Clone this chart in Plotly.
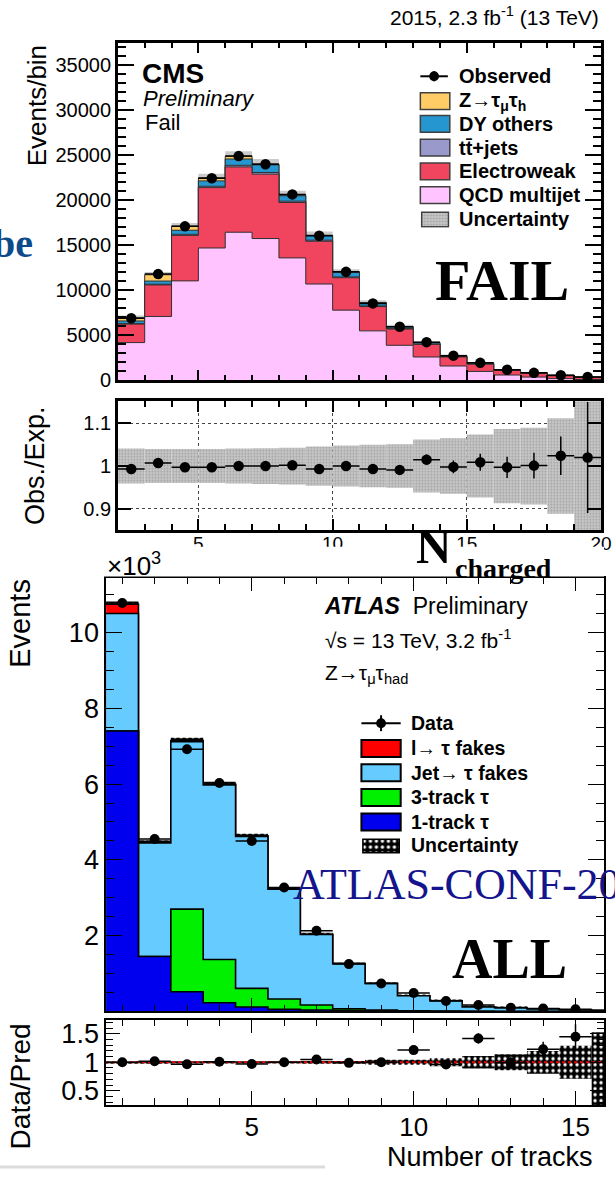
import plotly.graph_objects as go

W, H = 615, 1180


def fx(x):
    return x / W


def fy(y):
    return 1 - y / H


# ---------------- CMS panel data (N_charged, Fail category) ----------------
cms_edges = list(range(2, 21))
cms_centers = [e + 0.5 for e in range(2, 20)]
cms_qcd = [4200, 7100, 11050, 14700, 16450, 15750, 13600, 10700, 7800, 5500, 3900, 2600, 1600, 1000, 600, 370, 200, 100]
cms_ew = [2050, 3500, 5050, 6700, 7250, 7150, 6150, 4750, 3600, 2700, 1800, 1400, 1000, 800, 500, 410, 320, 230]
cms_tt = [50, 80, 120, 150, 180, 180, 150, 120, 90, 70, 50, 40, 30, 20, 20, 10, 10, 10]
cms_dy = [300, 350, 450, 600, 700, 850, 600, 500, 500, 350, 200, 150, 100, 80, 50, 40, 30, 20]
cms_ztt = [350, 700, 450, 350, 300, 100, 100, 50, 50, 30, 30, 20, 20, 20, 10, 10, 10, 10]
cms_obs = [6900, 11800, 17100, 22450, 24900, 24000, 20650, 16050, 12050, 8550, 5950, 4250, 2750, 1950, 1180, 840, 580, 380]
cms_obs_err = [80, 110, 130, 150, 160, 155, 145, 125, 110, 90, 75, 65, 50, 45, 35, 28, 24, 20]
cms_unc = [250, 300, 350, 450, 550, 550, 450, 400, 300, 250, 200, 150, 120, 100, 80, 60, 50, 50]
cms_ratio = [0.993, 1.007, 0.997, 0.997, 1.0, 1.0, 1.002, 0.993, 1.0, 0.993, 0.991, 1.015, 0.998, 1.009, 0.997, 1.001, 1.024, 1.02]
cms_ratio_err = [0.003, 0.003, 0.003, 0.003, 0.003, 0.003, 0.004, 0.004, 0.004, 0.005, 0.006, 0.012, 0.015, 0.02, 0.025, 0.03, 0.045, 0.13]
cms_band = [0.041, 0.040, 0.040, 0.040, 0.041, 0.042, 0.043, 0.046, 0.048, 0.050, 0.051, 0.062, 0.065, 0.074, 0.087, 0.090, 0.112, 0.16]
cms_xticks = [5, 10, 15, 20]
cms_yticks_ratio = [0.9, 1.0, 1.1]
cms_yticktext_ratio = ["0.9", "1", "1.1"]

# ---------------- ATLAS panel data (number of tracks) ----------------
atl_edges = [k + 0.5 for k in range(0, 17)]
atl_centers = list(range(1, 17))
atl_1trk = [7400, 1450, 520, 230, 120, 55, 40, 20, 10, 5, 3, 2, 1, 1, 1, 0]
atl_3trk = [0, 0, 2180, 1140, 490, 275, 130, 50, 25, 12, 6, 4, 2, 1, 1, 0]
atl_jet = [3100, 3000, 4420, 4610, 4010, 2900, 1860, 1190, 705, 398, 274, 112, 97, 62, 38, 25]
atl_lep = [250, 20, 30, 20, 15, 10, 8, 5, 3, 2, 1, 1, 1, 0, 0, 0]
atl_unc = [70, 50, 70, 60, 55, 45, 40, 30, 25, 20, 15, 12, 10, 8, 8, 10]
atl_data_x = list(range(1, 16))
atl_data = [10780, 4550, 6920, 6030, 4500, 3270, 2130, 1250, 740, 490, 275, 170, 100, 80, 57]
atl_data_err = [104, 67, 83, 78, 67, 57, 46, 35, 27, 22, 17, 13, 10, 9, 8]
atl_ratio = [1.0, 1.02, 0.965, 1.01, 0.97, 1.0, 1.05, 0.99, 1.0, 1.215, 0.96, 1.42, 0.99, 1.23, 1.45]
atl_ratio_err = [0.01, 0.015, 0.013, 0.014, 0.016, 0.018, 0.023, 0.03, 0.04, 0.05, 0.07, 0.09, 0.1, 0.13, 0.22]
atl_band_lo = [0.985, 0.985, 0.98, 0.98, 0.98, 0.98, 0.975, 0.975, 0.955, 0.955, 0.93, 0.89, 0.86, 0.8, 0.71, 0.2]
atl_band_hi = [1.015, 1.015, 1.02, 1.02, 1.02, 1.02, 1.025, 1.025, 1.045, 1.045, 1.07, 1.11, 1.14, 1.2, 1.29, 1.53]
atl_yticks = [2000, 4000, 6000, 8000, 10000]
atl_yticktext = ["2", "4", "6", "8", "10"]
atl_rticks = [0.5, 1.0, 1.5]
atl_rticktext = ["0.5", "1", "1.5"]

# colours
C_ZTT, C_DY, C_TT, C_EW, C_QCD = "#ffcc66", "#2596d0", "#9999cc", "#f0445f", "#ffc4ff"
C_LEP, C_JET, C_3T, C_1T = "#ff0000", "#66ccff", "#00f000", "#0000ee"

SANS = "Liberation Sans"
SERIF = "Liberation Serif"


def cumulative(*comps):
    out, run = [], [0] * len(comps[0])
    for c in comps:
        run = [a + b for a, b in zip(run, c)]
        out.append(run)
    return out


def step(edges, vals, fill, lc, lw, xa, ya):
    return go.Scatter(x=edges, y=list(vals) + [vals[-1]], mode="lines",
                      line=dict(shape="hv", color=lc, width=lw), fill="tozeroy",
                      fillcolor=fill, xaxis=xa, yaxis=ya, hoverinfo="skip", showlegend=False)


fig = go.Figure()

# ---- CMS stack ----
c_qcd, c_ew, c_tt, c_dy, c_tot = cumulative(cms_qcd, cms_ew, cms_tt, cms_dy, cms_ztt)
for vals, col in [(c_tot, C_ZTT), (c_dy, C_DY), (c_tt, C_TT), (c_ew, C_EW), (c_qcd, C_QCD)]:
    fig.add_trace(step(cms_edges, vals, col, "#303030", 1, "x", "y"))
fig.add_trace(go.Bar(x=cms_centers, y=[2 * u for u in cms_unc], base=[t - u for t, u in zip(c_tot, cms_unc)],
                     width=1, marker=dict(color="rgba(160,160,160,0.55)", line=dict(width=0)),
                     xaxis="x", yaxis="y", showlegend=False, hoverinfo="skip"))
fig.add_trace(go.Scatter(x=cms_centers, y=cms_obs, mode="markers",
                         marker=dict(color="black", size=10.5),
                         error_y=dict(type="data", array=cms_obs_err, width=0, thickness=1.5, color="black"),
                         error_x=dict(type="data", array=[0.5] * len(cms_centers), width=0, thickness=1.5, color="black"),
                         xaxis="x", yaxis="y", showlegend=False, hoverinfo="skip"))

# ---- CMS ratio ----
fig.add_trace(go.Bar(x=cms_centers, y=[2 * b for b in cms_band], base=[1 - b for b in cms_band], width=1,
                     marker=dict(color="#c4c4c4", line=dict(width=0),
                                 pattern=dict(shape=".", fgcolor="#a0a0a0", bgcolor="#c8c8c8", size=3, solidity=0.3, fillmode="replace")),
                     xaxis="x2", yaxis="y2", showlegend=False, hoverinfo="skip"))
fig.add_trace(go.Scatter(x=cms_centers, y=cms_ratio, mode="markers",
                         marker=dict(color="black", size=10.5),
                         error_y=dict(type="data", array=cms_ratio_err, width=0, thickness=1.5, color="black"),
                         error_x=dict(type="data", array=[0.5] * len(cms_centers), width=0, thickness=1.5, color="black"),
                         xaxis="x2", yaxis="y2", showlegend=False, hoverinfo="skip"))

# ---- ATLAS stack ----
a_1t, a_3t, a_jet, a_tot = cumulative(atl_1trk, atl_3trk, atl_jet, atl_lep)
for vals, col in [(a_tot, C_LEP), (a_jet, C_JET), (a_3t, C_3T), (a_1t, C_1T)]:
    fig.add_trace(step(atl_edges, vals, col, "black", 1.6, "x3", "y3"))
HATCH = dict(shape=".", fgcolor="white", bgcolor="black", size=6, solidity=0.25, fillmode="replace")
fig.add_trace(go.Bar(x=atl_centers, y=[2 * u for u in atl_unc], base=[t - u for t, u in zip(a_tot, atl_unc)], width=1,
                     marker=dict(color="black", line=dict(width=0), pattern=HATCH),
                     xaxis="x3", yaxis="y3", showlegend=False, hoverinfo="skip"))
fig.add_trace(go.Scatter(x=atl_data_x, y=atl_data, mode="markers",
                         marker=dict(color="black", size=10),
                         error_y=dict(type="data", array=atl_data_err, width=0, thickness=1.5, color="black"),
                         error_x=dict(type="data", array=[0.5] * len(atl_data_x), width=0, thickness=1.5, color="black"),
                         xaxis="x3", yaxis="y3", showlegend=False, hoverinfo="skip"))

# ---- ATLAS ratio ----
fig.add_trace(go.Bar(x=atl_centers, y=[h - l for l, h in zip(atl_band_lo, atl_band_hi)], base=atl_band_lo, width=1,
                     marker=dict(color="black", line=dict(width=0), pattern=HATCH),
                     xaxis="x4", yaxis="y4", showlegend=False, hoverinfo="skip"))
fig.add_trace(go.Scatter(x=[atl_edges[0], atl_edges[-1]], y=[1, 1], mode="lines",
                         line=dict(color="red", width=2, dash="dot"),
                         xaxis="x4", yaxis="y4", showlegend=False, hoverinfo="skip"))
fig.add_trace(go.Scatter(x=atl_data_x, y=atl_ratio, mode="markers",
                         marker=dict(color="black", size=10),
                         error_y=dict(type="data", array=atl_ratio_err, width=0, thickness=1.5, color="black"),
                         error_x=dict(type="data", array=[0.5] * len(atl_data_x), width=0, thickness=1.5, color="black"),
                         xaxis="x4", yaxis="y4", showlegend=False, hoverinfo="skip"))

# ---- legend boxes with patterns (tiny hidden axes) ----
fig.add_trace(go.Bar(x=[0.5], y=[1], width=[1], marker=dict(color="black", line=dict(width=1.5, color="black"), pattern=HATCH),
                     xaxis="x5", yaxis="y5", showlegend=False, hoverinfo="skip"))
fig.add_trace(go.Bar(x=[0.5], y=[1], width=[1],
                     marker=dict(color="#c4c4c4", line=dict(width=1.5, color="#404040"),
                                 pattern=dict(shape=".", fgcolor="#a0a0a0", bgcolor="#c8c8c8", size=3, solidity=0.3, fillmode="replace")),
                     xaxis="x6", yaxis="y6", showlegend=False, hoverinfo="skip"))


def frame_axis(domain, rng, anchor, lw, major_len, minor_len, dtick=None, tickvals=None, ticktext=None,
               minor_dtick=None, labels=False, fsize=20, grid=False, **kw):
    d = dict(domain=domain, range=rng, anchor=anchor, showline=True, linecolor="black", linewidth=lw,
             mirror="ticks", ticks="inside", ticklen=major_len, tickwidth=max(1, lw - 0.5), tickcolor="black",
             showticklabels=labels, tickfont=dict(family=SANS, size=fsize, color="black"),
             zeroline=False, showgrid=grid, fixedrange=True, tickformat="d")
    if dtick is not None:
        d.update(tick0=0, dtick=dtick)
    if tickvals is not None:
        d.update(tickmode="array", tickvals=tickvals)
        if ticktext is not None:
            d.update(ticktext=ticktext)
    if minor_dtick is not None:
        d["minor"] = dict(ticks="inside", ticklen=minor_len, dtick=minor_dtick, tick0=0,
                          tickcolor="black", tickwidth=max(1, lw - 0.5), showgrid=False)
    d.update(kw)
    return d


cms_xdom = [fx(120), fx(612)]
atl_xdom = [fx(108), 1.0]

layout = dict(
    width=W, height=H, autosize=False, margin=dict(l=0, r=0, t=0, b=0, pad=0),
    paper_bgcolor="white", plot_bgcolor="rgba(0,0,0,0)", barmode="overlay", showlegend=False,
    xaxis=frame_axis(cms_xdom, [2, 20], "y", 2.5, 11, 6, dtick=5, minor_dtick=1),
    yaxis=frame_axis([fy(384), fy(43)], [0, 37500], "x", 2.5, 16, 8, dtick=5000, minor_dtick=1000,
                     labels=True, fsize=20),
    xaxis2=frame_axis(cms_xdom, [2, 20], "y2", 2.5, 11, 6, tickvals=cms_xticks, minor_dtick=1,
                      labels=True, fsize=19, grid=True, gridcolor="#444", griddash="dot", gridwidth=1,
                      ticklabeloverflow="allow", ticklabelstandoff=-6),
    yaxis2=frame_axis([fy(535), fy(405)], [0.85, 1.152], "x2", 2.5, 13, 6, tickvals=cms_yticks_ratio,
                      ticktext=cms_yticktext_ratio, labels=True, fsize=20, grid=True, gridcolor="#444",
                      griddash="dot", gridwidth=1),
    xaxis3=frame_axis(atl_xdom, [0.5, 15.88], "y3", 1.5, 14, 7, dtick=5, minor_dtick=1),
    yaxis3=frame_axis([fy(1021), fy(583)], [0, 11450], "x3", 1.5, 16, 8, tickvals=atl_yticks,
                      ticktext=atl_yticktext, minor_dtick=500, labels=True, fsize=27),
    xaxis4=frame_axis(atl_xdom, [0.5, 15.88], "y4", 1.5, 14, 7, dtick=5, minor_dtick=1, labels=True, fsize=26,
                      ticklabelstandoff=-2),
    yaxis4=frame_axis([fy(1115.3), fy(1029.3)], [0.25, 1.75], "x4", 1.5, 14, 7, tickvals=atl_rticks,
                      ticktext=atl_rticktext, minor_dtick=0.1, labels=True, fsize=27),
    xaxis5=dict(domain=[fx(368), fx(408)], range=[-0.04, 1.04], visible=False, anchor="y5", fixedrange=True),
    yaxis5=dict(domain=[fy(862), fy(846)], range=[-0.08, 1.08], visible=False, anchor="x5", fixedrange=True),
    xaxis6=dict(domain=[fx(428), fx(458)], range=[-0.05, 1.05], visible=False, anchor="y6", fixedrange=True),
    yaxis6=dict(domain=[fy(230), fy(213)], range=[-0.08, 1.08], visible=False, anchor="x6", fixedrange=True),
)
fig.update_layout(**layout)

ann = []


def text(x, y, s, size, xanchor="left", yanchor="middle", family=SANS, color="black", angle=0):
    ann.append(dict(x=fx(x), y=fy(y), xref="paper", yref="paper", text=s, showarrow=False,
                    xanchor=xanchor, yanchor=yanchor, textangle=angle, borderpad=0,
                    font=dict(family=family, size=size, color=color)))


# CMS texts
text(611, 16, "2015, 2.3 fb<sup>-1</sup> (13 TeV)", 21, xanchor="right")
text(144, 74, "<b>CMS</b>", 28)
text(145, 99, "<i>Preliminary</i>", 22)
text(147, 124, "Fail", 22)
text(38, 107, "Events/bin", 26, xanchor="center", angle=-90)
text(35, 470, "Obs./Exp.", 27, xanchor="center", angle=-90)
text(511, 283, "<b>FAIL</b>", 58, xanchor="center", family=SERIF)
text(35, 246, "<b>be</b>", 40, xanchor="right", family=SERIF, color="#0d4a8c")
text(460, 552, "<b>N</b>", 49, xanchor="right", family=SERIF)
text(462, 574, "<b>charged</b>", 28, family=SERIF)

cms_leg_rows = [77, 102, 125, 149, 173, 197, 221]
cms_leg_text = ["<b>Observed</b>", "<b>Z→τ<sub>μ</sub>τ<sub>h</sub></b>", "<b>DY others</b>",
                "<b>tt̄+jets</b>", "<b>Electroweak</b>", "<b>QCD multijet</b>", "<b>Uncertainty</b>"]
for r, s in zip(cms_leg_rows, cms_leg_text):
    text(466, r, s, 20)

# ATLAS texts
text(108, 570, "×10<sup>3</sup>", 26)
text(21, 629, "Events", 29, xanchor="center", angle=-90)
text(21, 1097, "Data/Pred", 28, xanchor="center", angle=-90)
text(393, 1168, "Number of tracks", 27)
text(329, 612, "<b><i>ATLAS</i></b>  Preliminary", 23)
text(330, 645, "√s = 13 TeV, 3.2 fb<sup>-1</sup>", 21)
text(330, 680, "Z→τ<sub>μ</sub>τ<sub>had</sub>", 21)
text(297, 893, "ATLAS-CONF-20", 44, family=SERIF, color="#14148c")
text(519, 968, "<b>ALL</b>", 56, xanchor="center", family=SERIF)

atl_leg_rows = [730, 755.5, 780, 805, 829.7, 853.3]
atl_leg_text = ["<b>Data</b>", "<b>l→ τ fakes</b>", "<b>Jet→ τ fakes</b>", "<b>3-track τ</b>",
                "<b>1-track τ</b>", "<b>Uncertainty</b>"]
for r, s in zip(atl_leg_rows, atl_leg_text):
    text(417, r, s, 19.5)

shapes = []


def rect(x0, y0, x1, y1, fill, lc="black", lw=1.5, layer="above"):
    shapes.append(dict(type="rect", xref="paper", yref="paper", x0=fx(x0), x1=fx(x1), y0=fy(y1), y1=fy(y0),
                       fillcolor=fill, line=dict(color=lc, width=lw), layer=layer))


def line(x0, y0, x1, y1, color="black", width=1.5):
    shapes.append(dict(type="line", xref="paper", yref="paper", x0=fx(x0), x1=fx(x1), y0=fy(y0), y1=fy(y1),
                       line=dict(color=color, width=width), layer="above"))


def dot(cx, cy, r):
    shapes.append(dict(type="circle", xref="paper", yref="paper", x0=fx(cx - r), x1=fx(cx + r),
                       y0=fy(cy + r), y1=fy(cy - r), fillcolor="black", line=dict(color="black", width=0),
                       layer="above"))


# white cover over lower half of CMS x-tick labels (ATLAS page overlaps)
rect(95, 552, 615, 582, "white", lw=0)

# CMS legend symbols
line(428, 77, 456, 77, width=2)
line(442, 72, 442, 82, width=2)
dot(442, 77, 5)
for r, col in zip(cms_leg_rows[1:6], [C_ZTT, C_DY, C_TT, C_EW, C_QCD]):
    rect(428, r - 8.5, 458, r + 8.5, col, lc="#404040", lw=1.5)

# ATLAS legend symbols
line(368, 730, 408, 730, width=2)
line(388, 722, 388, 738, width=2)
dot(388, 730, 5)
for r, col in zip(atl_leg_rows[1:5], [C_LEP, C_JET, C_3T, C_1T]):
    rect(368, r - 8.5, 408, r + 8.5, col, lc="black", lw=2)

# faint page edge at bottom
line(0, 1178, 331, 1178, color="#dcdcdc", width=3)

fig.update_layout(annotations=ann, shapes=shapes)
fig.write_html("out.html")
